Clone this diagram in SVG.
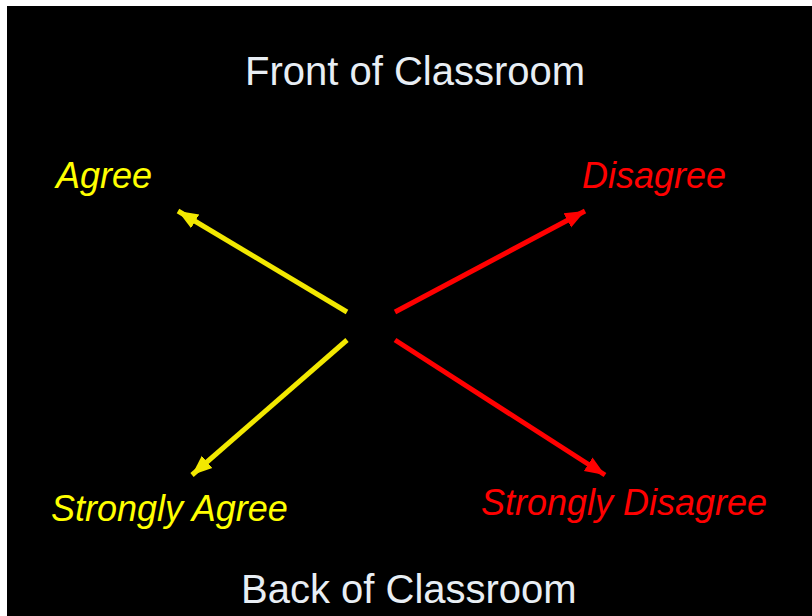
<svg xmlns="http://www.w3.org/2000/svg" width="812" height="616" viewBox="0 0 812 616">
<style>
text{font-family:"Liberation Sans",Arial,sans-serif}
.t{fill:#e8eef4;font-size:40px}
.l{font-size:36px;font-style:italic}
.y{fill:#ffff00}
.r{fill:#ff0000}
.ay{stroke:#f2e800;stroke-width:5;fill:none}
.ar{stroke:#ff0000;stroke-width:5;fill:none}
</style>
<defs>
<marker id="hy" markerUnits="userSpaceOnUse" markerWidth="24" markerHeight="24" viewBox="0 0 24 24" refX="20" refY="12" orient="auto">
<path d="M0,4 L20,12 L0,20 Z" fill="#f2e800"/>
</marker>
<marker id="hr" markerUnits="userSpaceOnUse" markerWidth="24" markerHeight="24" viewBox="0 0 24 24" refX="20" refY="12" orient="auto">
<path d="M0,4 L20,12 L0,20 Z" fill="#ff0000"/>
</marker>
</defs>
<rect x="0" y="0" width="812" height="616" fill="#ffffff"/>
<rect x="7" y="6" width="805" height="610" fill="#000000"/>
<g id="front"><text class="t" x="245" y="85">Front of Classroom</text></g>
<g id="agree"><text class="l y" x="56" y="188">Agree</text></g>
<g id="disagree"><text class="l r" x="582" y="188">Disagree</text></g>
<g id="strongly-agree"><text class="l y" x="51" y="521">Strongly Agree</text></g>
<g id="strongly-disagree"><text class="l r" x="481" y="515">Strongly Disagree</text></g>
<g id="back"><text class="t" x="241" y="603">Back of Classroom</text></g>
<g id="connectors">
<line class="ay" x1="347" y1="312" x2="178" y2="211" marker-end="url(#hy)"/>
<line class="ar" x1="395" y1="312" x2="585" y2="211" marker-end="url(#hr)"/>
<line class="ay" x1="347" y1="340" x2="192" y2="475" marker-end="url(#hy)"/>
<line class="ar" x1="395" y1="340" x2="605" y2="475" marker-end="url(#hr)"/>
</g>
</svg>
